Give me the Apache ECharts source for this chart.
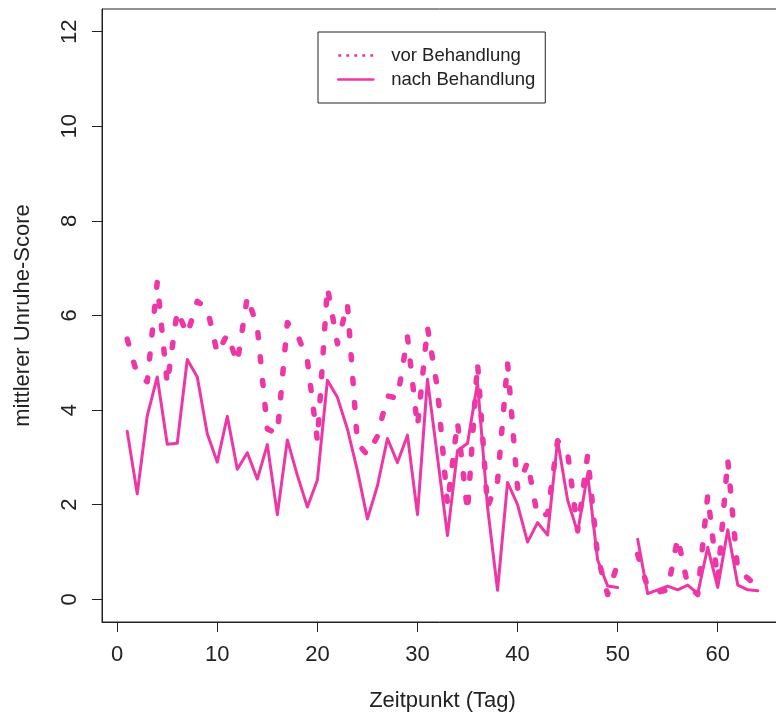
<!DOCTYPE html>
<html lang="de">
<head>
<meta charset="UTF-8">
<title>Unruhe-Score vor und nach Behandlung</title>
<script src="https://cdn.jsdelivr.net/npm/echarts@6.0.0/dist/echarts.min.js"></script>
<style>
html, body { margin: 0; padding: 0; background: #fff; }
#chart { width: 776px; height: 719px; }
</style>
</head>
<body>
<div id="chart"></div>
<script>
// Zeitpunkt (Tag)
const days = [1, 2, 3, 4, 5, 6, 7, 8, 9, 10, 11, 12, 13, 14, 15, 16, 17, 18, 19, 20,
  21, 22, 23, 24, 25, 26, 27, 28, 29, 30, 31, 32, 33, 34, 35, 36, 37, 38, 39, 40,
  41, 42, 43, 44, 45, 46, 47, 48, 49, 50, 51, 52, 53, 54, 55, 56, 57, 58, 59, 60,
  61, 62, 63, 64];

// mittlerer Unruhe-Score vor Behandlung (Tag 51 fehlt)
const vorBehandlung = [5.5, 4.75, 4.6, 6.7, 4.55, 6.1, 5.6, 6.3, 6.15, 5.2,
  5.6, 5.0, 6.4, 5.75, 3.6, 3.5, 5.85, 5.6, 5.05, 3.35,
  6.6, 5.4, 6.25, 3.3, 3.05, 3.45, 4.3, 4.25, 5.55, 3.65,
  5.75, 4.45, 2.0, 3.75, 1.85, 5.0, 1.95, 2.5, 5.0, 2.35,
  2.9, 1.75, 1.8, 3.35, 3.1, 1.45, 3.05, 0.9, 0.1, 0.75,
  null, 0.95, 0.25, 0.15, 0.2, 1.3, 0.3, 0.1, 2.2, 0.4,
  2.95, 0.6, 0.45, 0.25];

// mittlerer Unruhe-Score nach Behandlung
const nachBehandlung = [3.55, 2.23, 3.88, 4.7, 3.28, 3.3, 5.07, 4.7, 3.5, 2.9,
  3.87, 2.75, 3.1, 2.54, 3.27, 1.79, 3.37, 2.62, 1.95, 2.52,
  4.63, 4.27, 3.6, 2.72, 1.7, 2.4, 3.4, 2.89, 3.47, 1.79,
  4.65, 3.0, 1.35, 3.14, 3.3, 4.58, 1.95, 0.19, 2.47, 2.0,
  1.21, 1.62, 1.36, 3.36, 2.1, 1.42, 2.65, 0.83, 0.28, 0.25,
  null, 1.27, 0.12, 0.2, 0.28, 0.2, 0.3, 0.12, 1.1, 0.25,
  1.47, 0.3, 0.2, 0.18];

const xTicks = [0, 10, 20, 30, 40, 50, 60];
const yTicks = [0, 2, 4, 6, 8, 10, 12];

const pink = '#ee37a6';
const ink = '#222';
const font = 'Liberation Sans, Arial, sans-serif';

const chart = echarts.init(document.getElementById('chart'));

const pairs = vals => days.map((d, i) => [d, vals[i]]);

chart.setOption({
  animation: false,
  backgroundColor: '#fff',
  textStyle: { fontFamily: font, color: ink },
  grid: {
    left: 102, top: 9, right: -7, bottom: 97,
    containLabel: false,
    outerBoundsMode: 'none',
    show: true,
    borderColor: ink,
    borderWidth: 1
  },
  legend: {
    orient: 'vertical',
    left: 318,
    top: 32,
    padding: [14, 10, 14, 19],
    itemGap: 5,
    itemWidth: 35,
    itemHeight: 18,
    borderColor: ink,
    borderWidth: 1,
    backgroundColor: '#fff',
    itemStyle: { opacity: 0 },
    textStyle: { fontSize: 18.5, color: ink, fontFamily: font, padding: [0, 0, 0, 13] },
    data: [
      { name: 'vor Behandlung', itemStyle: { opacity: 0 }, lineStyle: { width: 2.5, type: [3, 5], cap: 'butt', color: pink, opacity: 1 } },
      { name: 'nach Behandlung', itemStyle: { opacity: 0 }, lineStyle: { width: 2.5, type: 'solid', color: pink, opacity: 1 } }
    ]
  },
  xAxis: {
    type: 'value',
    min: -1.52,
    max: 66.52,
    name: 'Zeitpunkt (Tag)',
    nameLocation: 'middle',
    nameGap: 68,
    nameTextStyle: { fontSize: 22, color: ink, fontFamily: font },
    axisLine: { show: true, onZero: false, lineStyle: { color: ink, width: 1 } },
    axisTick: { show: true, length: 10, lineStyle: { color: ink }, customValues: xTicks },
    axisLabel: { fontSize: 22, color: ink, margin: 22, customValues: xTicks, formatter: v => String(v) },
    splitLine: { show: false }
  },
  yAxis: {
    type: 'value',
    min: -0.48,
    max: 12.48,
    name: 'mittlerer Unruhe-Score',
    nameLocation: 'middle',
    nameGap: 68,
    nameTextStyle: { fontSize: 22, color: ink, fontFamily: font },
    axisLine: { show: true, onZero: false, lineStyle: { color: ink, width: 1 } },
    axisTick: { show: true, length: 10, lineStyle: { color: ink }, customValues: yTicks },
    axisLabel: { fontSize: 22, color: ink, margin: 21, rotate: 90, customValues: yTicks, formatter: v => String(v) },
    splitLine: { show: false }
  },
  series: [
    {
      name: 'vor Behandlung',
      type: 'line',
      data: pairs(vorBehandlung),
      symbol: 'none',
      connectNulls: false,
      lineStyle: { color: pink, width: 5.5, type: [5, 19], cap: 'round', join: 'round' },
      itemStyle: { color: pink }
    },
    {
      name: 'nach Behandlung',
      type: 'line',
      data: pairs(nachBehandlung),
      symbol: 'none',
      connectNulls: false,
      lineStyle: { color: pink, width: 3, type: 'solid', cap: 'round', join: 'round' },
      itemStyle: { color: pink }
    }
  ]
});
</script>
</body>
</html>
